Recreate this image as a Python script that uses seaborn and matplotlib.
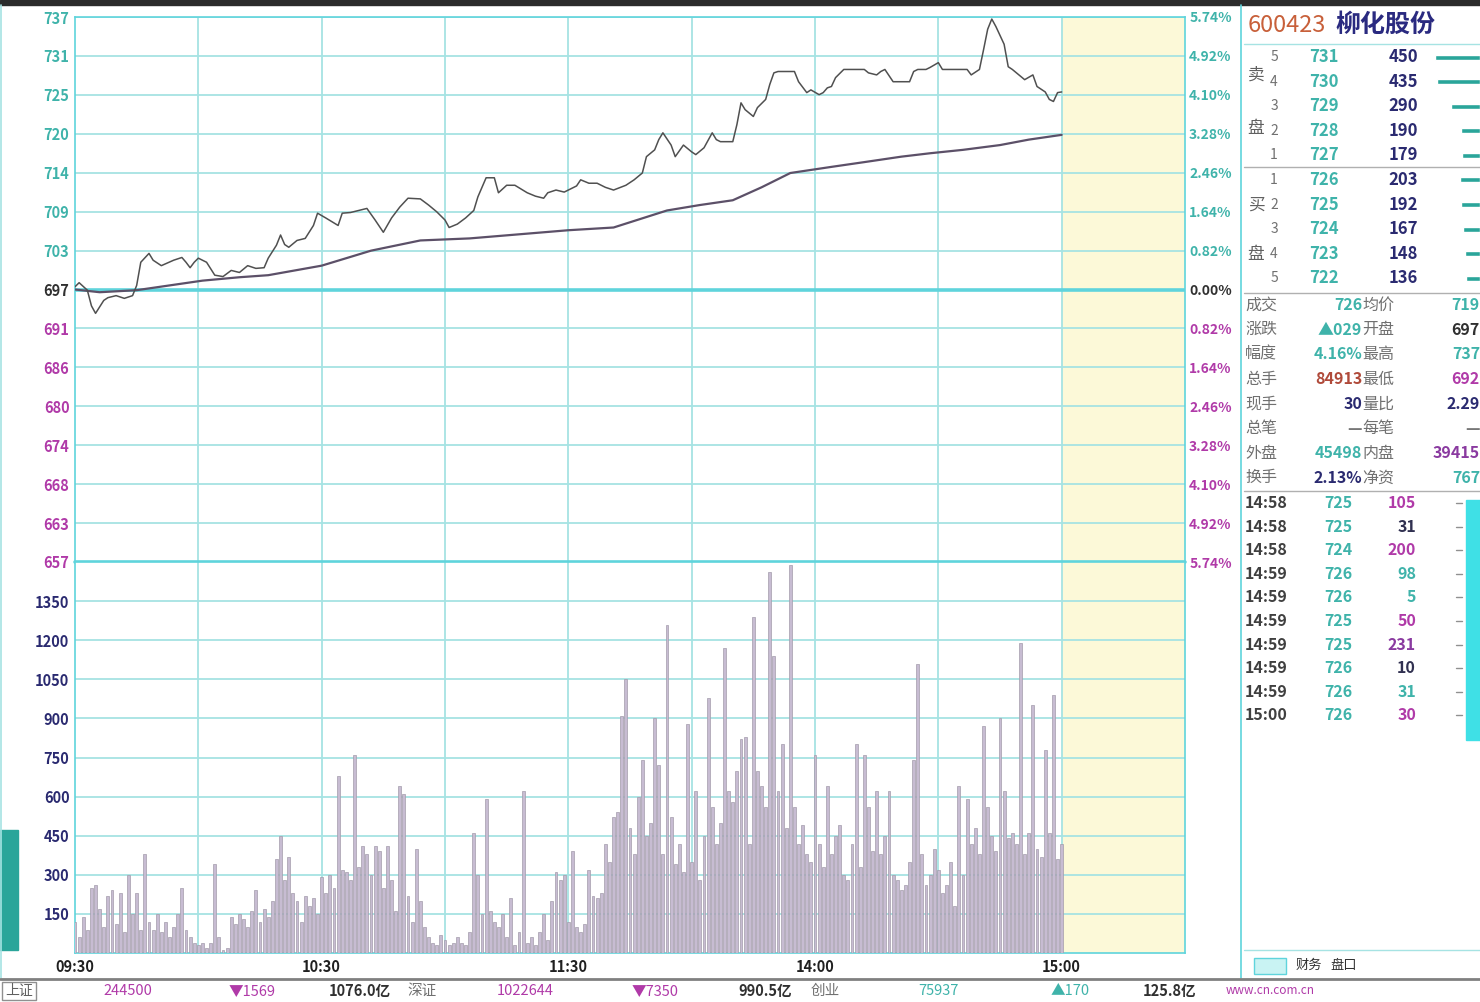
import numpy as np
import pandas as pd
import matplotlib
matplotlib.use("Agg")
import matplotlib.pyplot as plt
from matplotlib.lines import Line2D
from matplotlib.patches import Rectangle
import seaborn as sns

sns.set_style("white")
plt.rcParams['font.family'] = ['Noto Sans CJK SC', 'DejaVu Sans']

# ---- data ----
# last price, minute offset from 09:30 (trading minutes)
price_min = [0, 1, 3, 4, 5, 7, 8, 10, 12, 14, 15, 16, 18, 19, 21, 24, 26, 27, 28, 29,
             30, 32, 34, 36, 38, 40, 42, 44, 46, 47, 49, 50, 51, 52, 54, 56, 58, 59, 61, 64,
             65, 67, 69, 71, 73, 75, 77, 79, 81, 84, 86, 88, 90, 91, 93, 95, 97, 98, 100, 102,
             103, 105, 107, 110, 112, 114, 115, 117, 119, 120, 122, 123, 125, 127, 129, 131, 134, 136, 138, 139,
             141, 142, 143, 145, 146, 148, 150, 151, 153, 155, 156, 157, 160, 161, 162, 163, 165, 166, 168, 169,
             170, 171, 173, 175, 176, 178, 179, 181, 182, 183, 184, 185, 187, 188, 190, 192, 193, 195, 196, 197,
             198, 199, 201, 203, 204, 205, 207, 208, 210, 211, 213, 215, 217, 218, 220, 221, 222, 223, 224, 226,
             227, 228, 229, 231, 233, 234, 236, 237, 238, 239, 240]
price_val = [697.4, 698.0, 696.9, 694.6, 693.5, 695.4, 695.8, 696.1, 695.7, 696.1, 697.6, 701.0, 702.3, 701.3, 700.5, 701.3, 701.7, 701.0, 700.2, 701.0,
             701.6, 701.0, 699.1, 698.9, 699.8, 699.5, 700.5, 700.1, 700.2, 701.6, 703.5, 705.0, 703.6, 703.2, 704.2, 704.5, 706.4, 708.2, 707.5, 706.4,
             708.2, 708.3, 708.6, 708.9, 707.2, 705.4, 707.5, 709.1, 710.4, 710.3, 709.4, 708.4, 707.2, 706.1, 706.6, 707.5, 708.6, 710.6, 713.4, 713.4,
             711.2, 712.3, 712.3, 711.2, 710.7, 710.4, 711.2, 711.6, 711.3, 711.6, 712.2, 713.1, 712.6, 712.6, 712.0, 711.6, 712.3, 713.1, 714.1, 716.5,
             717.5, 719.0, 720.0, 718.2, 716.5, 718.2, 717.2, 716.8, 717.8, 720.0, 719.0, 718.7, 718.7, 721.2, 724.4, 723.4, 722.4, 723.7, 724.9, 727.1,
             728.8, 729.0, 729.0, 729.0, 727.5, 725.9, 726.3, 725.6, 725.9, 726.6, 726.8, 728.1, 729.3, 729.3, 729.3, 729.3, 728.8, 728.5, 729.0, 729.3,
             728.4, 727.5, 727.5, 727.5, 729.0, 729.3, 729.3, 729.6, 730.3, 729.3, 729.3, 729.3, 729.3, 728.5, 729.3, 732.2, 735.2, 736.7, 735.6, 733.0,
             729.7, 729.3, 728.8, 727.8, 728.5, 726.8, 726.0, 724.9, 724.6, 725.9, 726.0]

# average price line
avg_min = [0, 6, 15, 23, 31, 40, 47, 60, 72, 84, 96, 108, 120, 131, 144, 152, 160, 167, 174, 184,
           192, 201, 208, 216, 225, 232, 240]
avg_val = [697.0, 696.6, 696.9, 697.6, 698.3, 698.8, 699.1, 700.5, 702.7, 704.2, 704.5, 705.1, 705.7, 706.1, 708.6, 709.4, 710.1, 712.0, 714.1, 715.0,
           715.7, 716.5, 717.0, 717.5, 718.2, 719.0, 719.7]

# per-minute volume (hands)
volume = [120, 60, 140, 90, 250, 260, 170, 100, 220, 240,
          110, 230, 80, 300, 150, 230, 90, 380, 120, 90,
          150, 80, 120, 60, 100, 150, 250, 90, 60, 40,
          30, 40, 20, 40, 340, 60, 10, 20, 140, 110,
          150, 130, 100, 160, 240, 120, 170, 140, 200, 360,
          450, 280, 370, 230, 200, 120, 220, 180, 210, 150,
          290, 230, 300, 250, 680, 320, 310, 280, 760, 330,
          410, 380, 300, 410, 390, 250, 410, 280, 160, 640,
          610, 220, 120, 400, 200, 100, 60, 40, 30, 70,
          50, 30, 40, 60, 40, 30, 80, 460, 300, 150,
          590, 160, 120, 100, 150, 60, 210, 30, 80, 620,
          40, 60, 30, 80, 150, 50, 200, 310, 280, 300,
          120, 390, 100, 80, 110, 320, 220, 210, 230, 420,
          350, 520, 540, 910, 1050, 480, 380, 600, 740, 450,
          500, 900, 720, 380, 1260, 520, 340, 420, 310, 880,
          350, 620, 280, 450, 980, 560, 420, 500, 1170, 620,
          580, 700, 820, 830, 420, 1290, 700, 640, 560, 1460,
          1140, 620, 800, 480, 1490, 560, 420, 490, 380, 350,
          760, 420, 330, 640, 380, 450, 490, 300, 280, 420,
          800, 330, 760, 560, 390, 620, 380, 450, 620, 300,
          280, 240, 260, 350, 740, 1110, 380, 260, 300, 400,
          320, 230, 260, 350, 180, 640, 300, 590, 420, 480,
          380, 870, 560, 450, 390, 900, 620, 440, 460, 420,
          1190, 380, 460, 950, 400, 370, 780, 460, 990, 360, 420]

price_labels = ["737", "731", "725", "720", "714", "709", "703", "697",
                "691", "686", "680", "674", "668", "663", "657"]
pct_labels = ["5.74%", "4.92%", "4.10%", "3.28%", "2.46%", "1.64%", "0.82%", "0.00%",
              "0.82%", "1.64%", "2.46%", "3.28%", "4.10%", "4.92%", "5.74%"]
vol_ticks = [150, 300, 450, 600, 750, 900, 1050, 1200, 1350]
time_ticks = [0, 60, 120, 180, 240]
time_labels = ["09:30", "10:30", "11:30", "14:00", "15:00"]

# order book
ask_lv = ["5", "4", "3", "2", "1"]
ask_px = ["731", "730", "729", "728", "727"]
ask_vol = [450, 435, 290, 190, 179]
bid_lv = ["1", "2", "3", "4", "5"]
bid_px = ["726", "725", "724", "723", "722"]
bid_vol = [203, 192, 167, 148, 136]

info_l = ["成交", "涨跌", "幅度", "总手", "现手", "总笔", "外盘", "换手"]
info_lv = ["726", "▲029", "4.16%", "84913", "30", "—", "45498", "2.13%"]
info_r = ["均价", "开盘", "最高", "最低", "量比", "每笔", "内盘", "净资"]
info_rv = ["719", "697", "737", "692", "2.29", "—", "39415", "767"]
info_lc = ["#3fb3aa", "#3fb3aa", "#3fb3aa", "#b04a3a", "#2a2a70", "#777777", "#3fb3aa", "#2a2a70"]
info_rc = ["#3fb3aa", "#303030", "#3fb3aa", "#b03aa8", "#2a2a70", "#777777", "#8a3aa0", "#3fb3aa"]

tick_time = ["14:58", "14:58", "14:58", "14:59", "14:59", "14:59", "14:59", "14:59", "14:59", "15:00"]
tick_px = ["725", "725", "724", "726", "726", "725", "725", "726", "726", "726"]
tick_vol = ["105", "31", "200", "98", "5", "50", "231", "10", "31", "30"]
tick_vc = ["#b03aa8", "#303050", "#b03aa8", "#3fb3aa", "#3fb3aa", "#b03aa8", "#8a3aa0", "#303050", "#3fb3aa", "#b03aa8"]

status_txt = ["244500", "▼1569", "1076.0亿", "深证", "1022644", "▼7350", "990.5亿", "创业",
              "75937", "▲170", "125.8亿", "www.cn.com.cn"]

W, H = 1480, 1002
GRID = "#a6e3e3"
CYAN = "#5fd4dc"
TEAL = "#3fb3aa"
MAG = "#b03aa8"


def fx(x):
    return x / W


def fy(y):
    return 1 - y / H


fig = plt.figure(figsize=(W / 100, H / 100), dpi=100)
fig.patch.set_facecolor("white")

ax_p = fig.add_axes([fx(75), fy(562), 1110 / W, 545 / H])
ax_v = fig.add_axes([fx(75), fy(953), 1110 / W, 391 / H])

lo, hi = 657.0, 737.0
ytick_pos = np.linspace(hi, lo, 15)

for ax in (ax_p, ax_v):
    ax.set_xlim(0, 270)
    ax.axvspan(240, 270, color="#fcf9d8", zorder=0)
    for xv in range(30, 241, 30):
        ax.axvline(xv, color=GRID, lw=1.3, zorder=1)
    for s in ax.spines.values():
        s.set_color(CYAN)
        s.set_linewidth(1.2)

# price panel
ax_p.set_ylim(lo, hi)
for yv in ytick_pos:
    ax_p.axhline(yv, color=GRID, lw=1.3, zorder=1)
ax_p.axhline(697, color=CYAN, lw=2.6, zorder=2)
ax_p.axhline(lo, color=CYAN, lw=2.6, zorder=2, clip_on=False)

sns.lineplot(x=avg_min, y=avg_val, ax=ax_p, color="#5c5068", lw=1.6, zorder=3)
sns.lineplot(x=price_min, y=price_val, ax=ax_p, color="#505050", lw=1.1, zorder=4)

ax_p.set_xticks([])
ax_p.set_xlabel("")
ax_p.set_ylabel("")
ax_p.set_yticks(ytick_pos)
ax_p.set_yticklabels(price_labels, fontsize=10.5, fontweight="bold")
ax_p.tick_params(axis="y", length=0, pad=4)
for i, t in enumerate(ax_p.get_yticklabels()):
    t.set_color(TEAL if i < 7 else ("#303030" if i == 7 else MAG))

ax_r = ax_p.twinx()
ax_r.set_ylim(lo, hi)
ax_r.set_yticks(ytick_pos)
ax_r.set_yticklabels(pct_labels, fontsize=10, fontweight="bold")
ax_r.tick_params(axis="y", length=0, pad=3)
for s in ax_r.spines.values():
    s.set_visible(False)
for i, t in enumerate(ax_r.get_yticklabels()):
    t.set_color(TEAL if i < 7 else ("#303030" if i == 7 else MAG))

# volume panel
ax_v.set_ylim(0, 1500)
for yv in vol_ticks:
    ax_v.axhline(yv, color=GRID, lw=1.3, zorder=1)
ax_v.bar(np.arange(len(volume)), volume, width=0.7, color="#c7bcd2",
         edgecolor="#a39cab", linewidth=0.5, zorder=3)
ax_v.set_yticks(vol_ticks)
ax_v.set_yticklabels([str(v) for v in vol_ticks], fontsize=10.5, fontweight="bold", color="#2a2a70")
ax_v.set_xticks(time_ticks)
ax_v.set_xticklabels(time_labels, fontsize=10.5, fontweight="bold", color="#202020")
ax_v.tick_params(length=0, pad=4)

# ---- right hand panel ----
def ptext(x, y, s, **kw):
    kw.setdefault("va", "center")
    fig.text(fx(x), fy(y), s, **kw)


def hline(x0, x1, y, color="#b0b0b0", lw=1.0):
    fig.add_artist(Line2D([fx(x0), fx(x1)], [fy(y), fy(y)], transform=fig.transFigure, color=color, lw=lw))


def vline(x, y0, y1, color=CYAN, lw=1.2):
    fig.add_artist(Line2D([fx(x), fx(x)], [fy(y0), fy(y1)], transform=fig.transFigure, color=color, lw=lw))


fig.add_artist(Rectangle((0, fy(5)), 1, 5 / H, transform=fig.transFigure, color="#2b2b2b"))
vline(1241, 5, 978)
vline(1, 5, 978, color="#a6e3e3")

ptext(1248, 25, "600423", fontsize=17, color="#c8603a")
ptext(1335, 25, "柳化股份", fontsize=18, fontweight="bold", color="#2a2a80")
hline(1244, 1480, 44, color=GRID)

book_rows = [57 + 24.6 * i for i in range(10)]
ptext(1256, 75, "卖", fontsize=12, color="#606060", ha="center")
ptext(1256, 128, "盘", fontsize=12, color="#606060", ha="center")
ptext(1256, 205, "买", fontsize=12, color="#606060", ha="center")
ptext(1256, 255, "盘", fontsize=12, color="#606060", ha="center")
lv = ask_lv + bid_lv
px = ask_px + bid_px
vol = ask_vol + bid_vol
for i, y in enumerate(book_rows):
    ptext(1274, y, lv[i], fontsize=10, color="#707070", ha="center")
    ptext(1324, y, px[i], fontsize=12, fontweight="bold", color=TEAL, ha="center")
    ptext(1418, y, str(vol[i]), fontsize=12, fontweight="bold", color="#2a2a70", ha="right")
hline(1244, 1480, 167)
hline(1244, 1480, 293)

ax_b = fig.add_axes([fx(1428), fy(292), 52 / W, 250 / H])
ax_b.barh(book_rows, vol, height=5, color="#2aa59a")
ax_b.set_xlim(520, 0)
ax_b.set_ylim(292, 42)
ax_b.axis("off")

for i in range(8):
    y = 305 + 24.7 * i
    ptext(1245, y, info_l[i], fontsize=11.5, color="#707070")
    ptext(1362, y, info_lv[i], fontsize=11.5, fontweight="bold", color=info_lc[i], ha="right")
    ptext(1362, y, info_r[i], fontsize=11.5, color="#707070")
    ptext(1480, y, info_rv[i], fontsize=11.5, fontweight="bold", color=info_rc[i], ha="right")
hline(1244, 1480, 491)

for i in range(10):
    y = 503 + 23.6 * i
    ptext(1245, y, tick_time[i], fontsize=11.5, fontweight="bold", color="#404040")
    ptext(1338, y, tick_px[i], fontsize=11.5, fontweight="bold", color=TEAL, ha="center")
    ptext(1416, y, tick_vol[i], fontsize=11.5, fontweight="bold", color=tick_vc[i], ha="right")
    hline(1456, 1462, y, color="#909090")
fig.add_artist(Rectangle((fx(1466), fy(740)), 14 / W, 240 / H, transform=fig.transFigure, color="#3fe0e6"))

hline(1244, 1480, 950, color=GRID)
fig.add_artist(Rectangle((fx(1254), fy(974)), 32 / W, 16 / H, transform=fig.transFigure,
                         facecolor="#c9f3f3", edgecolor=CYAN))
ptext(1296, 965, "财务", fontsize=9.5, color="#303030")
ptext(1330, 965, "盘口", fontsize=9.5, color="#303030")

# left tab
fig.add_artist(Rectangle((0, fy(950)), 18 / W, 120 / H, transform=fig.transFigure, color="#2aa59a"))

# ---- status bar ----
hline(0, 1480, 979, color="#808080", lw=2.0)
fig.add_artist(Rectangle((fx(2), fy(1000)), 34 / W, 18 / H, transform=fig.transFigure,
                         facecolor="white", edgecolor="#909090"))
ptext(19, 991, "上证", fontsize=10, color="#606060", ha="center")
status_x = [128, 252, 360, 422, 525, 655, 765, 825, 938, 1070, 1170, 1270]
status_c = [MAG, MAG, "#303030", "#707070", MAG, MAG, "#303030", "#707070",
            TEAL, TEAL, "#303030", MAG]
for x, s, c in zip(status_x, status_txt, status_c):
    ptext(x, 991, s, fontsize=10.5 if "www" not in s else 8.5, color=c, ha="center",
          fontweight="bold" if "亿" in s else "normal")

fig.savefig("out.png", dpi=100)
